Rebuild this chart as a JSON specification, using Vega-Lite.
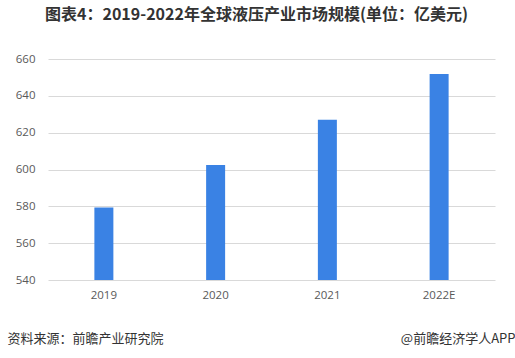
{
  "$schema": "https://vega.github.io/schema/vega-lite/v6.json",
  "autosize": {"type": "none"},
  "width": 447,
  "height": 221,
  "padding": {"left": 48, "top": 59, "right": 20, "bottom": 78},
  "background": "white",
  "title": {
    "text": "图表4：2019-2022年全球液压产业市场规模(单位：亿美元)",
    "font": "Noto Sans CJK SC",
    "fontSize": 16,
    "fontWeight": "bold",
    "color": "#333333",
    "anchor": "middle",
    "dx": -15,
    "offset": 30
  },
  "data": {
    "values": [
      {"year": "2019", "value": 579.3},
      {"year": "2020", "value": 602.5},
      {"year": "2021", "value": 627},
      {"year": "2022E", "value": 651.8}
    ]
  },
  "config": {
    "view": {"stroke": null},
    "axis": {"labelFont": "Open Sans", "titleFont": "Noto Sans CJK SC"}
  },
  "layer": [
    {
      "mark": {"type": "bar", "color": "#3a82e4", "clip": true},
      "encoding": {
        "x": {
          "field": "year",
          "type": "nominal",
          "sort": null,
          "scale": {"paddingInner": 0.83, "paddingOuter": 0.415},
          "axis": {
            "labelAngle": 0,
            "labelFontSize": 11.5,
            "labelColor": "#595959",
            "labelPadding": 9,
            "ticks": false,
            "domain": false,
            "title": "资料来源：前瞻产业研究院",
            "titleFontSize": 13,
            "titleFontWeight": "normal",
            "titleColor": "#333333",
            "titleAlign": "left",
            "titleAnchor": "start",
            "titleBaseline": "middle",
            "titleX": -41,
            "titleY": 58
          }
        },
        "y": {
          "field": "value",
          "type": "quantitative",
          "scale": {"domain": [540, 660], "zero": false},
          "axis": {
            "values": [540, 560, 580, 600, 620, 640, 660],
            "labelFontSize": 11.5,
            "labelColor": "#595959",
            "labelPadding": 13,
            "ticks": false,
            "domain": false,
            "gridColor": "#d9d9d9",
            "title": null
          }
        }
      }
    },
    {
      "mark": {"type": "bar", "opacity": 0, "clip": true},
      "encoding": {
        "x": {"field": "year", "type": "nominal", "sort": null},
        "y": {
          "field": "value",
          "type": "quantitative",
          "axis": {
            "orient": "right",
            "labels": false,
            "ticks": false,
            "domain": false,
            "grid": false,
            "title": "@前瞻经济学人APP",
            "titleAngle": 0,
            "titleFontSize": 13,
            "titleFontWeight": "normal",
            "titleColor": "#333333",
            "titleAlign": "right",
            "titleBaseline": "middle",
            "titleX": 20,
            "titleY": 279
          }
        }
      }
    }
  ],
  "resolve": {"axis": {"y": "independent"}}
}
